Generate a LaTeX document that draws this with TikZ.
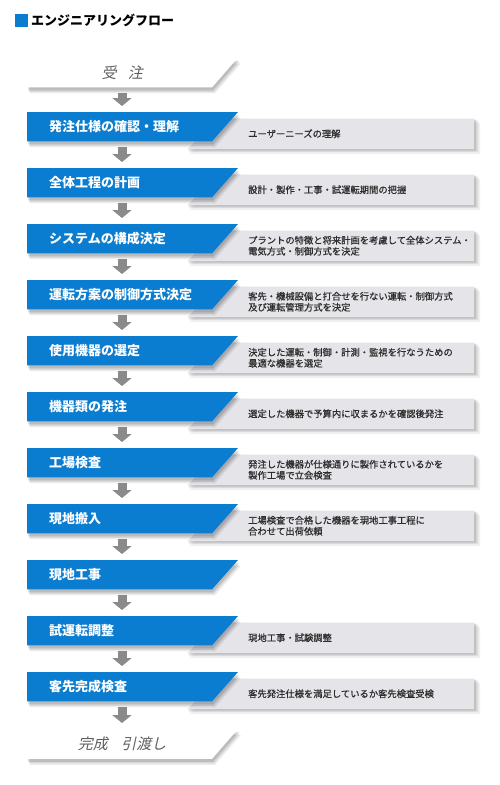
\documentclass[tikz,border=0pt]{standalone}
\usepackage{fontspec}
\newfontfamily\jp{Noto Sans CJK JP}
\newfontfamily\jpdesc[FakeBold=0.7]{Noto Sans CJK JP}
\newfontfamily\jpit[FakeSlant=0.22]{Noto Sans CJK JP}
\usetikzlibrary{calc,arrows.meta}
\definecolor{stepblue}{RGB}{10,125,208}
\definecolor{descgray}{RGB}{229,229,233}
\definecolor{arrowgray}{RGB}{138,138,138}
\definecolor{desctext}{RGB}{45,45,45}
\definecolor{endtext}{RGB}{95,95,95}
\pgfdeclarelayer{bg}\pgfdeclarelayer{shA}\pgfdeclarelayer{boxA}\pgfdeclarelayer{shB}\pgfdeclarelayer{boxB}
\pgfsetlayers{bg,shA,boxA,shB,boxB,main}
\tikzset{
  stepbox/.style={anchor=north west, inner xsep=22pt, inner ysep=0pt, text width=167pt,
    minimum height=29pt, align=left, text=white, font=\jp\bfseries\fontsize{13}{15}\selectfont},
  endbox/.style={anchor=north west, inner xsep=0pt, inner ysep=0pt, text width=190pt,
    minimum height=29.5pt, align=center, text=endtext, font=\jpit\fontsize{15}{17}\selectfont},
  desc/.style={anchor=west, inner sep=0pt, align=left, text=desctext,
    font=\jpdesc\fontsize{9.3}{11}\selectfont},
  flowarrow/.style={draw=arrowgray, line width=9pt, -{Triangle[width=19pt,length=8pt]}},
}
% parallelogram of a step box, offset (#2,#3)
\newcommand\pgram[3]{($(#1.north west)+(#2,#3)$) -- ($(#1.north west)+(211+#2,#3)$) -- ($(#1.south west)+(185+#2,#3)$) -- ($(#1.south west)+(#2,#3)$) -- cycle}
\newcommand\boxshadow[1]{%
  \begin{pgfonlayer}{shB}
    \fill[black,opacity=0.07] \pgram{#1}{3}{6};
    \fill[black,opacity=0.09] \pgram{#1}{2}{4.5};
    \fill[black,opacity=0.12] \pgram{#1}{1}{3};
  \end{pgfonlayer}}
\newcommand\flowstep[3]{% #1 name, #2 top, #3 label
  \node[stepbox] (s#1) at (27,#2) {#3};
  \boxshadow{s#1}
  \begin{pgfonlayer}{boxB}\fill[stepblue] \pgram{s#1}{0}{0};\end{pgfonlayer}}
\newcommand\descbox[3]{% #1 name, #2 top of step, #3 text
  \node[desc] (d#1) at (248,#2+21.75) {#3};
  \begin{pgfonlayer}{shA}
    \fill[black,opacity=0.06] (219,#2+10.5) -- (480,#2+10.5) -- (480,#2+42) -- (190,#2+42) -- cycle;
    \fill[black,opacity=0.09] (217,#2+8.5) -- (478,#2+8.5) -- (478,#2+40) -- (189,#2+40) -- cycle;
    \fill[black,opacity=0.12] (216,#2+7.5) -- (476,#2+7.5) -- (476,#2+38.5) -- (188,#2+38.5) -- cycle;
  \end{pgfonlayer}
  \begin{pgfonlayer}{boxA}
    \fill[descgray] (215,#2+6.5) -- (474,#2+6.5) -- (474,#2+37) -- (188,#2+37) -- cycle;
  \end{pgfonlayer}}
\begin{document}
\begin{tikzpicture}[x=1pt,y=-1pt]
\begin{pgfonlayer}{bg}
\fill[white] (0,0) rectangle (500,785);
\end{pgfonlayer}
\useasboundingbox (0,0) rectangle (500,785);
% title
\fill[stepblue] (15,14) rectangle (28,27);
\node[anchor=west, inner sep=0pt, font=\jp\bfseries\fontsize{13}{15}\selectfont] (title) at (31,20.5) {エンジニアリングフロー};
% start
\node[endbox] (start) at (27,57.5) {受\hspace{0.75em}注};
\boxshadow{start}
\begin{pgfonlayer}{boxB}\fill[white] \pgram{start}{0}{0};\end{pgfonlayer}
% steps
\flowstep{1}{112}{発注仕様の確認・理解}
\descbox{1}{112}{ユーザーニーズの理解}
\flowstep{2}{168}{全体工程の計画}
\descbox{2}{168}{設計・製作・工事・試運転期間の把握}
\flowstep{3}{224}{システムの構成決定}
\descbox{3}{224}{プラントの特徴と将来計画を考慮して全体システム・\\電気方式・制御方式を決定}
\flowstep{4}{280}{運転方案の制御方式決定}
\descbox{4}{280}{客先・機械設備と打合せを行ない運転・制御方式\\及び運転管理方式を決定}
\flowstep{5}{336}{使用機器の選定}
\descbox{5}{336}{決定した運転・制御・計測・監視を行なうための\\最適な機器を選定}
\flowstep{6}{392}{機器類の発注}
\descbox{6}{392}{選定した機器で予算内に収まるかを確認後発注}
\flowstep{7}{448}{工場検査}
\descbox{7}{448}{発注した機器が仕様通りに製作されているかを\\製作工場で立会検査}
\flowstep{8}{504}{現地搬入}
\descbox{8}{504}{工場検査で合格した機器を現地工事工程に\\合わせて出荷依頼}
\flowstep{9}{560}{現地工事}
\flowstep{10}{616}{試運転調整}
\descbox{10}{616}{現地工事・試験調整}
\flowstep{11}{672}{客先完成検査}
\descbox{11}{672}{客先発注仕様を満足しているか客先検査受検}
% end
\node[endbox] (finish) at (27,729) {完成\hspace{0.9em}引渡し};
\boxshadow{finish}
\begin{pgfonlayer}{boxB}\fill[white] \pgram{finish}{0}{0};\end{pgfonlayer}
% arrows
\foreach \a/\b in {start/s1,s1/s2,s2/s3,s3/s4,s4/s5,s5/s6,s6/s7,s7/s8,s8/s9,s9/s10,s10/s11,s11/finish}{
  \draw[flowarrow] ($(\a.south west)+(95,6)$) -- ($(\b.north west)+(95,-6)$);
}
\end{tikzpicture}
\end{document}
